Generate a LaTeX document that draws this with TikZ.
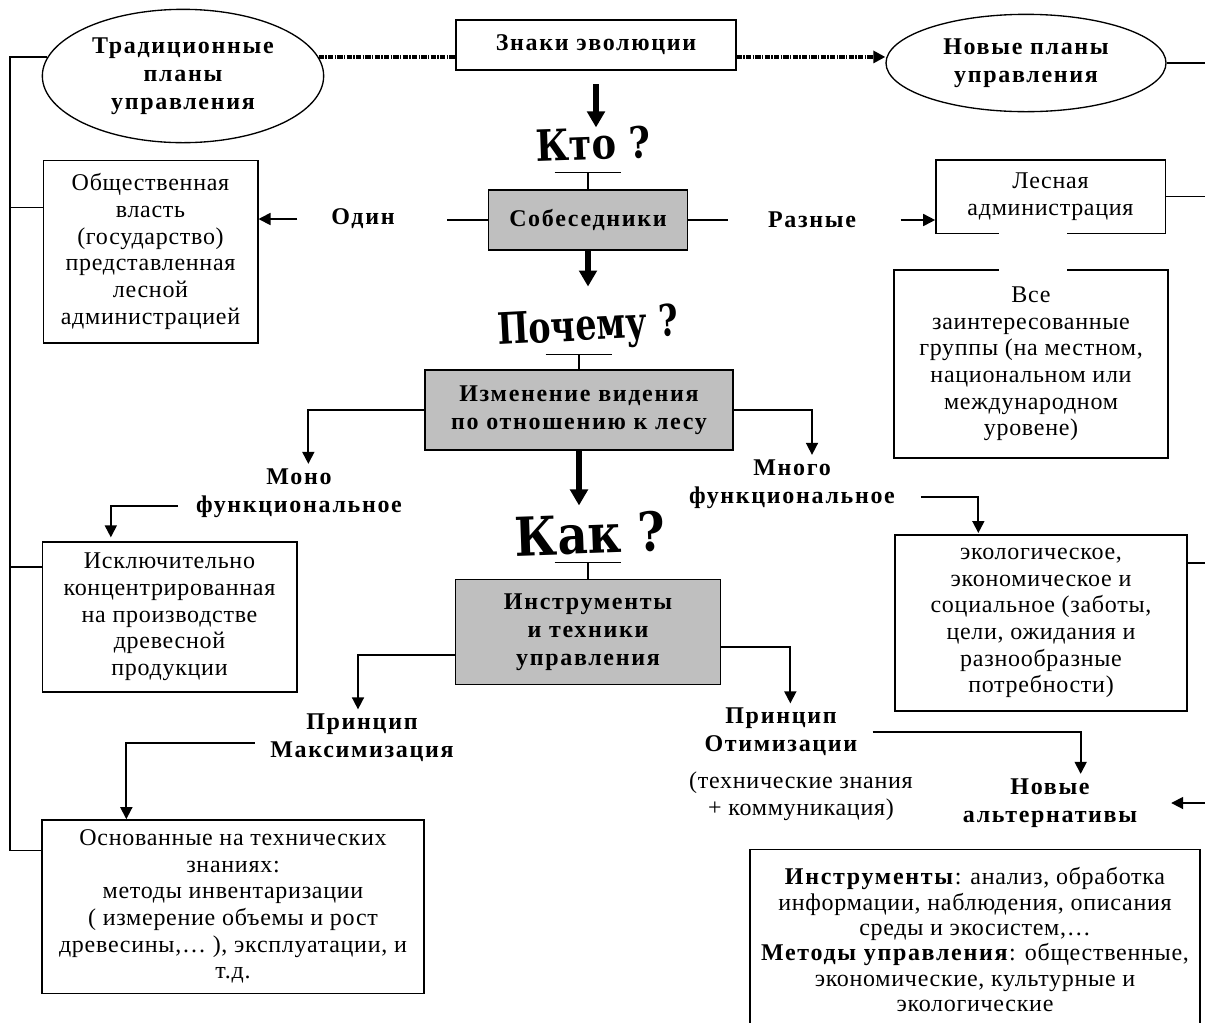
\documentclass[tikz,border=0pt]{standalone}
\usepackage{fontspec}
\setmainfont{Liberation Serif}[LetterSpace=3,BoldFeatures={LetterSpace=7}]
\newfontfamily\wordfont{DejaVu Serif}
\usepackage{graphicx}
\usetikzlibrary{shapes.geometric, arrows.meta}

\begin{document}
\begin{tikzpicture}[x=0.75pt, y=-0.75pt,
        every node/.style={font=\fontsize{18}{20}\selectfont, align=center},
        box/.style={draw, line width=1pt, inner sep=2pt},
        graybox/.style={box, fill=gray!50, font=\fontsize{18}{21}\selectfont\bfseries},
        oval/.style={draw, ellipse, line width=1pt, inner sep=0pt, font=\fontsize{18}{21}\selectfont\bfseries},
        lbl/.style={font=\fontsize{18}{21}\selectfont\bfseries},
        word/.style={font=\wordfont\bfseries, inner sep=0pt},
        wire/.style={line width=1pt},
        arr/.style={line width=1.3pt, -{Triangle[length=9pt, width=9pt]}},
        bigarr/.style={line width=5pt, -{Triangle[length=12pt, width=13pt]}},
        dotline/.style={line width=2.5pt, dash pattern=on 4pt off 1pt on 1pt off 1pt}]
        \useasboundingbox (0,0) rectangle (1205,1022);
        \coordinate (lft) at (10,0);
        \coordinate (rgt) at (1205,0);

        % Draw the plans and the signs of evolution
        \node[oval, minimum width=211pt, minimum height=100pt] (trad) at (183,76) {Традиционные\\планы\\управления};
        \node[box, lbl, minimum width=210pt, minimum height=37.5pt] (znaki) at (596,45) {Знаки эволюции};
        \node[oval, minimum width=210pt, minimum height=73pt] (novye) at (1026,63) {Новые планы\\управления};

        % Draw the questions
        \node[word, rotate=2] (kto) at (593,144) {\scalebox{1.02}[1.2]{\fontsize{27}{27}\selectfont Кто ?}};
        \node[word, rotate=3] (pochemu) at (588,329) {\scalebox{1}[1.3]{\fontsize{25}{25}\selectfont Почему ?}};
        \node[word, rotate=2] (kak) at (590,534) {\scalebox{1}[1.15]{\fontsize{35}{35}\selectfont Как ?}};

        % Draw the grey boxes
        \node[graybox, minimum width=149pt, minimum height=45pt] (sobes) at (588,220) {Собеседники};
        \node[graybox, minimum width=231pt, minimum height=60pt] (izmen) at (579,410) {Изменение видения\\по отношению к лесу};
        \node[graybox, minimum width=199pt, minimum height=79pt] (instr) at (588,632) {Инструменты\\и техники\\управления};

        % Draw the labels
        \node[lbl] (odin) at (363,219) {Один};
        \node[lbl] (raznye) at (812,220) {Разные};
        \node[lbl] (mono) at (299,493) {Моно\\функциональное};
        \node[lbl] (mnogo) at (792,484) {Много\\функциональное};
        \node[lbl] (maks) at (362,738) {Принцип\\Максимизация};
        \node[lbl] (opt) at (781,732) {Принцип\\Отимизации};
        \node (tech) at (801,796) {(технические знания\\+ коммуникация)};
        \node[lbl] (alt) at (1050,803) {Новые\\альтернативы};

        % Draw the white boxes
        \node[box, minimum width=161pt, minimum height=137pt] (obsch) at (150.5,251.5) {Общественная\\власть\\(государство)\\представленная\\лесной\\администрацией};
        \node[box, minimum width=172pt, minimum height=55pt] (lesn) at (1050.5,196.5) {Лесная\\администрация};
        \node[box, minimum width=205.5pt, minimum height=141pt] (vse) at (1031,364) {Все\\заинтересованные\\группы (на местном,\\национальном или\\международном\\уровене)};
        \node[box, minimum width=191pt, minimum height=112.5pt] (iskl) at (169.5,617) {Исключительно\\концентрированная\\на производстве\\древесной\\продукции};
        \node[box, minimum width=219pt, minimum height=132pt] (ekol) at (1041,623) {экологическое,\\экономическое и\\социальное (заботы,\\цели, ожидания и\\разнообразные\\потребности)};
        \node[box, minimum width=286.5pt, minimum height=130pt] (osn) at (233,906.5) {Основанные на технических\\знаниях:\\методы инвентаризации\\( измерение объемы и рост\\древесины,… ), эксплуатации, и\\т.д.};
        \node[box, anchor=north, minimum width=337.5pt, minimum height=135pt, font=\fontsize{18}{19}\selectfont] (tools) at (975,849) {\textbf{Инструменты}: анализ, обработка\\информации, наблюдения, описания\\среды и экосистем,…\\\textbf{Методы управления}: общественные,\\экономические, культурные и\\экологические};

        % Top line
        \draw[dotline] (trad.8) -- (trad.8 -| znaki.west);
        \draw[dotline, -{Triangle[length=9pt, width=9pt]}] (trad.8 -| znaki.east) -- (trad.8 -| novye.west);
        \draw[wire] (novye.east) -- (novye.east -| rgt);

        % Left bus
        \draw[wire] (trad.172) -- (trad.172 -| lft) -- ([yshift=42pt]osn.west -| lft) -- ([yshift=42pt]osn.west);
        \draw[wire] ([yshift=33pt]obsch.west) -- ([yshift=33pt]obsch.west -| lft);
        \draw[wire] ([yshift=37.5pt]iskl.west) -- ([yshift=37.5pt]iskl.west -| lft);

        % Who
        \draw[bigarr, shorten <=10pt] (znaki.south) -- (znaki.south |- kto.north);
        \draw[wire] (sobes.north) -- ++(0,-17) coordinate (kt);
        \draw[wire] ([xshift=-25pt]kt) -- ([xshift=25pt]kt);
        \draw[line width=1.5pt] (sobes.west) -- ++(-41,0);
        \draw[line width=1.5pt] (sobes.east) -- ++(40,0);
        \draw[arr, shorten <=22pt] (odin.west) -- (odin.west -| obsch.east);
        \draw[arr, shorten <=30pt] (raznye.east) -- (raznye.east -| lesn.west);
        \draw[wire] (lesn.east) -- (lesn.east -| rgt);
        \draw[white, line width=51pt, shorten <=-2pt, shorten >=-2pt] (lesn.south -| 1033,0) -- (vse.north -| 1033,0);

        % Why
        \draw[bigarr, shorten >=16pt] (sobes.south) -- (sobes.south |- pochemu.north);
        \draw[wire] (izmen.north) -- ++(0,-15) coordinate (pt);
        \draw[wire] ([xshift=-25pt]pt) -- ([xshift=25pt]pt);
        \draw[arr] (izmen.west) -| ([xshift=7pt]mono.north);
        \draw[arr] (izmen.east) -| ([xshift=15pt]mnogo.north);
        \draw[arr, shorten >=3pt] ([xshift=-10pt, yshift=-10pt]mono.west) -| ([xshift=-44pt]iskl.north);
        \draw[arr, shorten >=1pt] ([xshift=16pt, yshift=-10pt]mnogo.east) -| ([xshift=-47pt]ekol.north);
        \draw[wire] ([yshift=45pt]ekol.east) -- ([yshift=45pt]ekol.east -| rgt);

        % How
        \draw[bigarr, shorten >=6pt] (izmen.south) -- (izmen.south |- kak.north);
        \draw[wire] (instr.north) -- ++(0,-16) coordinate (ht);
        \draw[wire] ([xshift=-25pt]ht) -- ([xshift=25pt]ht);
        \draw[arr] ([yshift=-17pt]instr.west) -| ([xshift=-3pt]maks.north);
        \draw[arr] ([yshift=-11pt]instr.east) -| ([xshift=7pt]opt.north);
        \draw[arr] ([xshift=-8pt, yshift=-4pt]maks.west) -| ([xshift=-80pt]osn.north);
        \draw[arr] ([xshift=8pt]opt.east) -| ([xshift=23pt]alt.north);
        \draw[arr, shorten >=22pt] (alt.east -| rgt) -- (alt.east);
    \end{tikzpicture}
\end{document}
